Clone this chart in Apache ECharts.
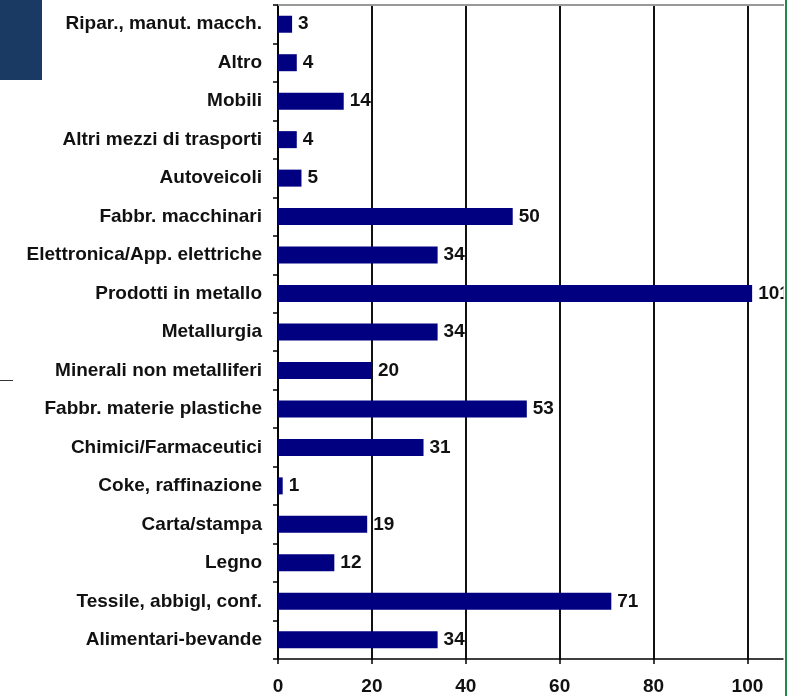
<!DOCTYPE html>
<html>
<head>
<meta charset="utf-8">
<script src="https://cdn.jsdelivr.net/npm/echarts@6/dist/echarts.min.js"></script>
<style>
  html, body { margin: 0; padding: 0; background: #fff; }
  #chart { width: 787px; height: 696px; }
</style>
</head>
<body>
<div id="chart"></div>
<script>
// categories top to bottom, as in the picture
const categories = [
  'Ripar., manut. macch.',
  'Altro',
  'Mobili',
  'Altri mezzi di trasporti',
  'Autoveicoli',
  'Fabbr. macchinari',
  'Elettronica/App. elettriche',
  'Prodotti in metallo',
  'Metallurgia',
  'Minerali non metalliferi',
  'Fabbr. materie plastiche',
  'Chimici/Farmaceutici',
  'Coke, raffinazione',
  'Carta/stampa',
  'Legno',
  'Tessile, abbigl, conf.',
  'Alimentari-bevande'
];
const values = [3, 4, 14, 4, 5, 50, 34, 101, 34, 20, 53, 31, 1, 19, 12, 71, 34];

const font = '"Liberation Sans", Arial, sans-serif';

const chart = echarts.init(document.getElementById('chart'));

const option = {
  backgroundColor: '#fff',
  animation: false,
  grid: { left: 278, right: 2, top: 5, bottom: 36 },
  xAxis: {
    type: 'value',
    min: 0,
    max: 108,
    interval: 20,
    axisLine: { show: true, lineStyle: { color: '#000', width: 1.5 } },
    axisTick: { show: true, length: 5, lineStyle: { color: '#000', width: 1.5 } },
    axisLabel: {
      showMaxLabel: false,
      margin: 18,
      color: '#111',
      fontFamily: font,
      fontWeight: 'bold',
      fontSize: 19
    },
    splitLine: { show: true, lineStyle: { color: '#111', width: 2 } }
  },
  yAxis: {
    type: 'category',
    data: categories,
    inverse: true,
    axisLine: { show: true, lineStyle: { color: '#000', width: 1.5 } },
    axisTick: { show: true, length: 5, lineStyle: { color: '#000', width: 1.5 } },
    axisLabel: {
      margin: 16,
      color: '#111',
      fontFamily: font,
      fontWeight: 'bold',
      fontSize: 19
    }
  },
  series: [{
    type: 'bar',
    data: values,
    barWidth: 17,
    itemStyle: { color: '#000080' },
    label: {
      show: true,
      position: 'right',
      distance: 6,
      color: '#111',
      fontFamily: font,
      fontWeight: 'bold',
      fontSize: 19
    }
  }],
  graphic: [
    { type: 'rect', shape: { x: 0, y: 0, width: 42, height: 80 }, style: { fill: '#1b3a63' }, z: 10 },
    { type: 'line', shape: { x1: 0, y1: 380.5, x2: 13, y2: 380.5 }, style: { stroke: '#333', lineWidth: 1 }, z: 10 },
    { type: 'line', shape: { x1: 278, y1: 5, x2: 784, y2: 5 }, style: { stroke: '#999', lineWidth: 2 }, z: 10 },
    // green frame edge on the right, drawn over the last grid line
    { type: 'rect', shape: { x: 783.5, y: 0, width: 4, height: 696 }, style: { fill: '#fff' }, z: 9 },
    { type: 'line', shape: { x1: 786, y1: 0, x2: 786, y2: 696 }, style: { stroke: '#1f8a4c', lineWidth: 2 }, z: 10 }
  ]
};

chart.setOption(option);
</script>
</body>
</html>
